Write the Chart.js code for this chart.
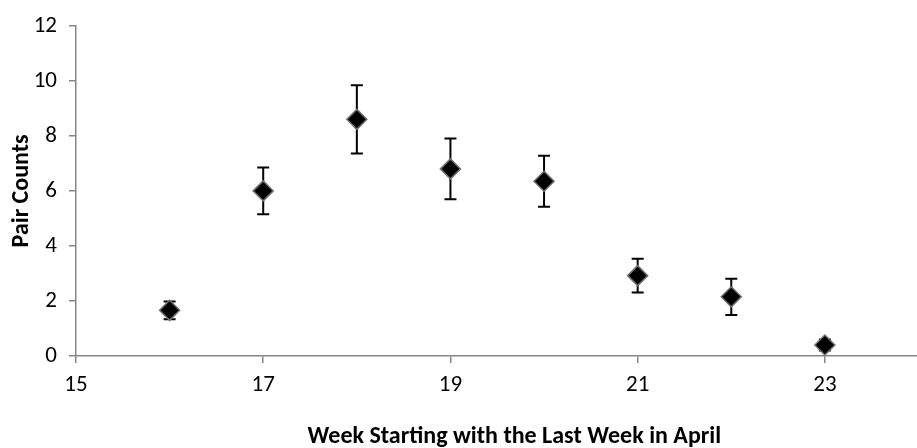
<!DOCTYPE html>
<html>
<head>
<meta charset="utf-8">
<script src="https://cdn.jsdelivr.net/npm/chart.js@4/dist/chart.umd.min.js"></script>
<style>
  html, body { margin: 0; padding: 0; background: #fff; width: 917px; height: 448px; overflow: hidden; }
  #wrap { position: relative; width: 930px; height: 448px; }
</style>
</head>
<body>
<div id="wrap"><canvas id="c" width="930" height="448"></canvas></div>
<script>
const weeks = [16, 17, 18, 19, 20, 21, 22, 23];
const pairCounts = [1.66, 6.0, 8.6, 6.8, 6.35, 2.92, 2.15, 0.4];
const errors = [0.32, 0.85, 1.24, 1.1, 0.93, 0.61, 0.66, 0.2];
const xTicks = [15, 17, 19, 21, 23];
const yTicks = [0, 2, 4, 6, 8, 10, 12];
const xTitle = 'Week Starting with the Last Week in April';
const yTitle = 'Pair Counts';

const FONT = 'Calibri, Carlito, Lato, sans-serif';
const AXIS = '#868686';

const errorBars = {
  id: 'errorBars',
  beforeDatasetsDraw(chart) {
    const ctx = chart.ctx, xs = chart.scales.x, ys = chart.scales.y;
    ctx.save();
    ctx.strokeStyle = '#000';
    ctx.lineWidth = 2;
    weeks.forEach((w, i) => {
      const px = xs.getPixelForValue(w);
      const top = ys.getPixelForValue(pairCounts[i] + errors[i]);
      const bot = ys.getPixelForValue(pairCounts[i] - errors[i]);
      ctx.beginPath();
      ctx.moveTo(px, top); ctx.lineTo(px, bot);
      ctx.moveTo(px - 6, top); ctx.lineTo(px + 6, top);
      ctx.moveTo(px - 6, bot); ctx.lineTo(px + 6, bot);
      ctx.stroke();
    });
    ctx.restore();
  }
};

const xAxisTitle = {
  id: 'xAxisTitle',
  afterDraw(chart) {
    const ctx = chart.ctx, ca = chart.chartArea;
    ctx.save();
    ctx.fillStyle = '#000';
    ctx.font = 'bold 24px ' + FONT;
    ctx.textAlign = 'center';
    ctx.textBaseline = 'middle';
    ctx.fillText(xTitle, (ca.left + ca.right) / 2 + 17, 437);
    ctx.restore();
  }
};

new Chart(document.getElementById('c'), {
  type: 'scatter',
  data: {
    datasets: [{
      data: weeks.map((w, i) => ({ x: w, y: pairCounts[i] })),
      pointStyle: 'rectRot',
      pointRadius: 10,
      pointHoverRadius: 10,
      backgroundColor: '#000',
      borderColor: '#6e6e6e',
      borderWidth: 1.5
    }]
  },
  options: {
    responsive: false,
    animation: false,
    events: [],
    layout: { padding: { top: 16, right: 6, left: 0, bottom: 0 } },
    plugins: { legend: { display: false }, tooltip: { enabled: false } },
    scales: {
      x: {
        type: 'linear',
        min: 15, max: 24,
        afterBuildTicks(s) { s.ticks = xTicks.map(v => ({ value: v })); },
        afterFit(s) { s.height = 92; },
        grid: { drawOnChartArea: false, drawTicks: true, tickLength: 7, color: AXIS, lineWidth: 1.5 },
        border: { color: AXIS, width: 1.5 },
        ticks: { color: '#000', font: { family: FONT, size: 23 }, padding: 8, maxRotation: 0 },
        title: { display: false }
      },
      y: {
        min: 0, max: 12,
        afterBuildTicks(s) { s.ticks = yTicks.map(v => ({ value: v })); },
        afterFit(s) { s.width = 76; },
        grid: { drawOnChartArea: false, drawTicks: true, tickLength: 7, color: AXIS, lineWidth: 1.5 },
        border: { color: AXIS, width: 1.5 },
        ticks: { color: '#000', font: { family: FONT, size: 23 }, padding: 12 },
        title: { display: true, text: yTitle, color: '#000',
                 font: { family: FONT, size: 24, weight: 'bold' }, padding: { top: 8, bottom: 0 } }
      }
    }
  },
  plugins: [errorBars, xAxisTitle]
});
</script>
</body>
</html>
